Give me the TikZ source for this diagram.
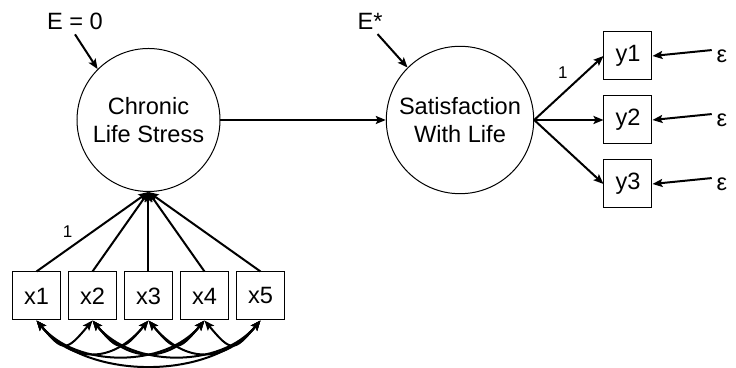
\documentclass[tikz,border=0pt]{standalone}
\usepackage{fontspec}
\setmainfont{Liberation Sans}
\usetikzlibrary{arrows.meta,positioning}
\tikzstyle{latent}=[
    draw,
    line width = 0.5pt,
    circle,
    minimum size = 71.5pt,
    align = center,
    font = \fontsize{11.8}{14}\selectfont
]

\begin{document}
\begin{tikzpicture}[x=0.5pt, y=0.5pt, line width=1pt, >={Stealth[length=5pt,width=4pt,inset=1pt]},
    obs/.style = {draw, line width=0.5pt, minimum size=24pt, inner sep=0pt, font=\fontsize{11.8}{14}\selectfont},
    lbl/.style = {font=\fontsize{11.8}{14}\selectfont, inner sep=2pt},
    small/.style = {font=\fontsize{8.5}{10}\selectfont, inner sep=0pt}]
        \useasboundingbox (0,0) rectangle (736,368);
        \node[latent] (stress) at (148.5,248) {Chronic\\Life Stress};
        \node[latent] (sat) [right of = stress, node distance = 155.75pt] {Satisfaction\\With Life};
        \node[lbl] (d1) at (75,347) {E = 0};
        \node[lbl] (d2) at (370,347) {E*};

        \node[obs] (x3) [below of = stress, node distance = 88pt] {x3};
        \node[obs] (x2) [left of = x3, node distance = 28pt] {x2};
        \node[obs] (x1) [left of = x2, node distance = 28pt] {x1};
        \node[obs] (x4) [right of = x3, node distance = 28pt] {x4};
        \node[obs] (x5) [right of = x4, node distance = 28pt] {x5};

        \node[obs] (y2) [right of = sat, node distance = 84pt] {y2};
        \node[obs] (y1) [above of = y2, node distance = 32pt] {y1};
        \node[obs] (y3) [below of = y2, node distance = 32pt] {y3};
        \node[lbl] (e1) [right of = y1, node distance = 47pt] {ε};
        \node[lbl] (e2) [right of = y2, node distance = 47pt] {ε};
        \node[lbl] (e3) [right of = y3, node distance = 47pt] {ε};

        \draw[->] (d1.south) -- (stress.135);
        \draw[->] (d2.-60) -- (sat.135);
        \draw[->] (stress) -- (sat);
        \draw[->] (sat.east) -- (y1.west) node [small, pos=0.5, xshift=-3pt, yshift=7.5pt] {1};
        \draw[->] (sat.east) -- (y2.west);
        \draw[->] (sat.east) -- (y3.west);
        \foreach \i in {1,2,3}
            \draw[->] (e\i.150) -- (y\i.east);

        \draw[->] (x1.north) -- (stress.south) node [small, pos=0.35, xshift=-4pt, yshift=6pt] {1};
        \foreach \i in {2,...,5}
            \draw[->] (x\i.north) -- (stress.south);

        % correlated indicators
        \foreach \i/\j/\l in {1/2/1.9, 2/3/1.9, 3/4/1.9, 4/5/1.9, 1/3/1.3, 2/4/1.3, 3/5/1.3, 1/4/0.95, 2/5/0.95, 1/5/0.9}
            \draw[<->] (x\i.south) to [out=-50, in=-130, looseness=\l] (x\j.south);

    \end{tikzpicture}
\end{document}
